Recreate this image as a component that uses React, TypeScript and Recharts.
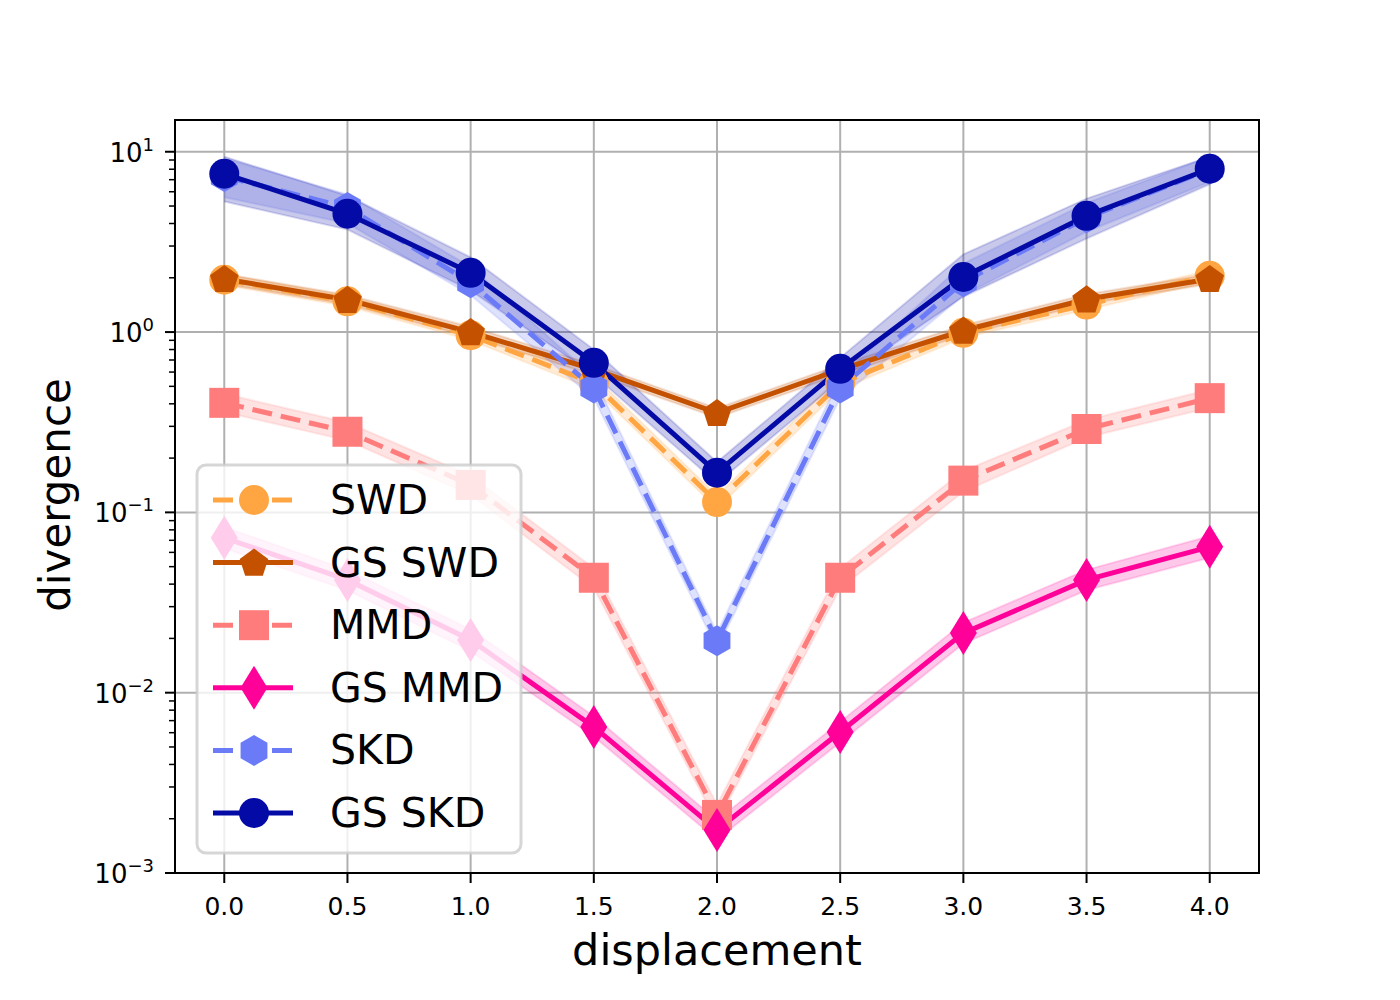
import React from "react";
import {
  ComposedChart,
  Line,
  Area,
  XAxis,
  YAxis,
  CartesianGrid,
  ReferenceArea,
} from "recharts";

const displacement = [0, 0.5, 1, 1.5, 2, 2.5, 3, 3.5, 4];

const swd = [1.95, 1.48, 0.96, 0.52, 0.114, 0.52, 0.99, 1.42, 2.05];
const swdLow = [1.82, 1.39, 0.9, 0.48, 0.105, 0.48, 0.93, 1.33, 1.9];
const swdHigh = [2.1, 1.58, 1.03, 0.57, 0.124, 0.57, 1.06, 1.52, 2.2];

const gsSwd = [1.97, 1.51, 1.0, 0.62, 0.356, 0.62, 1.02, 1.52, 1.97];
const gsSwdLow = [1.85, 1.42, 0.94, 0.58, 0.335, 0.58, 0.96, 1.43, 1.85];
const gsSwdHigh = [2.1, 1.61, 1.07, 0.66, 0.378, 0.66, 1.09, 1.62, 2.1];

const mmd = [0.405, 0.28, 0.142, 0.0434, 0.0021, 0.0434, 0.15, 0.29, 0.43];
const mmdLow = [0.36, 0.25, 0.125, 0.038, 0.0019, 0.038, 0.13, 0.26, 0.38];
const mmdHigh = [0.455, 0.315, 0.16, 0.049, 0.0024, 0.049, 0.17, 0.325, 0.48];

const gsMmd = [0.0723, 0.0422, 0.0196, 0.00646, 0.00173, 0.00605, 0.0214, 0.0422, 0.0644];
const gsMmdLow = [0.063, 0.037, 0.017, 0.0057, 0.00153, 0.0053, 0.0187, 0.037, 0.056];
const gsMmdHigh = [0.083, 0.048, 0.0225, 0.0074, 0.00196, 0.0069, 0.0245, 0.048, 0.074];

const skd = [7.3, 4.9, 1.88, 0.49, 0.0194, 0.49, 1.9, 4.3, 8.0];
const skdLow = [5.6, 4.0, 1.6, 0.43, 0.0175, 0.43, 1.6, 3.6, 6.8];
const skdHigh = [9.2, 5.8, 2.3, 0.56, 0.0215, 0.56, 2.4, 5.2, 9.4];

const gsSkd = [7.55, 4.53, 2.13, 0.675, 0.166, 0.625, 2.02, 4.41, 8.05];
const gsSkdLow = [5.3, 3.7, 1.7, 0.58, 0.145, 0.54, 1.57, 3.3, 6.6];
const gsSkdHigh = [9.4, 5.7, 2.6, 0.8, 0.19, 0.72, 2.7, 5.5, 9.4];

const xTicks = [0, 0.5, 1, 1.5, 2, 2.5, 3, 3.5, 4];
const majorTicks = [0.001, 0.01, 0.1, 1, 10];
const minorSteps = [2, 3, 4, 5, 6, 7, 8, 9];

const yTicks = [
  ...majorTicks,
  ...[0.001, 0.01, 0.1, 1].flatMap((d) => minorSteps.map((m) => +(m * d).toPrecision(3))),
].sort((a, b) => a - b);

const series = [
  { key: "swd", name: "SWD", color: "#FFA643", shape: "circle", dashed: true, vals: swd, lo: swdLow, hi: swdHigh },
  { key: "gsSwd", name: "GS SWD", color: "#C45100", shape: "pentagon", dashed: false, vals: gsSwd, lo: gsSwdLow, hi: gsSwdHigh },
  { key: "mmd", name: "MMD", color: "#FF7C7C", shape: "square", dashed: true, vals: mmd, lo: mmdLow, hi: mmdHigh },
  { key: "gsMmd", name: "GS MMD", color: "#FF0099", shape: "diamond", dashed: false, vals: gsMmd, lo: gsMmdLow, hi: gsMmdHigh },
  { key: "skd", name: "SKD", color: "#6B7BF7", shape: "hexagon", dashed: true, vals: skd, lo: skdLow, hi: skdHigh },
  { key: "gsSkd", name: "GS SKD", color: "#040AA5", shape: "circle", dashed: false, vals: gsSkd, lo: gsSkdLow, hi: gsSkdHigh },
];

const data = displacement.map((x, i) => {
  const row: any = { x };
  series.forEach((s) => {
    row[s.key] = s.vals[i];
    row[s.key + "Band"] = [s.lo[i], s.hi[i]];
  });
  return row;
});

const polygon = (cx: number, cy: number, r: number, n: number) =>
  Array.from({ length: n }, (_, k) => {
    const a = (-90 + (360 / n) * k) * (Math.PI / 180);
    return `${cx + r * Math.cos(a)},${cy + r * Math.sin(a)}`;
  }).join(" ");

function Marker({ shape, cx, cy, color }: any) {
  if (cx == null || cy == null) return null;
  switch (shape) {
    case "pentagon":
      return <polygon points={polygon(cx, cy + 1, 15, 5)} fill={color} />;
    case "square":
      return <rect x={cx - 15} y={cy - 15} width={30} height={30} fill={color} />;
    case "diamond":
      return (
        <polygon
          points={`${cx},${cy - 22} ${cx + 13.5},${cy} ${cx},${cy + 22} ${cx - 13.5},${cy}`}
          fill={color}
        />
      );
    case "hexagon":
      return <polygon points={polygon(cx, cy, 15.5, 6)} fill={color} />;
    default:
      return <circle cx={cx} cy={cy} r={15} fill={color} />;
  }
}

const XTick = ({ x, y, payload }: any) => (
  <g>
    <line x1={x} x2={x} y1={y} y2={y + 10} stroke="#000" strokeWidth={2} />
    <text x={x} y={y + 42} textAnchor="middle" fontSize={25} fill="#000">
      {Number(payload.value).toFixed(1)}
    </text>
  </g>
);

const YTick = ({ x, y, payload }: any) => {
  const v = Number(payload.value);
  const e = Math.round(Math.log10(v));
  const major = Math.abs(Math.log10(v) - e) < 1e-6;
  if (!major) {
    return <line x1={x - 6} x2={x} y1={y} y2={y} stroke="#000" strokeWidth={1.5} />;
  }
  return (
    <g>
      <line x1={x - 10} x2={x} y1={y} y2={y} stroke="#000" strokeWidth={2} />
      <text x={x - 21} y={y + 10} textAnchor="end" fontSize={26} fill="#000">
        <tspan>10</tspan>
        <tspan dy={-11} fontSize={18}>
          {e < 0 ? "\u2212" + Math.abs(e) : String(e)}
        </tspan>
      </text>
    </g>
  );
};

function LegendBox() {
  const left = 197;
  const top = 465;
  return (
    <g>
      <rect
        x={left}
        y={top}
        width={324}
        height={388}
        rx={9}
        fill="#fff"
        fillOpacity={0.8}
        stroke="#cccccc"
        strokeOpacity={0.8}
        strokeWidth={3}
      />
      {series.map((s, i) => {
        const cy = top + 35 + i * 62.6;
        return (
          <g key={s.key}>
            <line
              x1={left + 16}
              x2={left + 96}
              y1={cy}
              y2={cy}
              stroke={s.color}
              strokeWidth={5}
              strokeDasharray={s.dashed ? "20 39" : undefined}
            />
            <Marker shape={s.shape} cx={left + 57} cy={cy} color={s.color} />
            <text x={left + 133} y={cy + 14} fontSize={41} fill="#000">
              {s.name}
            </text>
          </g>
        );
      })}
    </g>
  );
}

export default function App() {
  return (
    <div
      style={{
        position: "absolute",
        left: 0,
        top: 0,
        width: 1400,
        height: 1000,
        background: "#fff",
        fontFamily: "'DejaVu Sans', sans-serif",
      }}
    >
      <ComposedChart
        width={1400}
        height={1000}
        data={data}
        margin={{ top: 120, right: 141, bottom: 0, left: 0 }}
      >
        <CartesianGrid
          stroke="#b0b0b0"
          strokeWidth={2}
          horizontalValues={majorTicks}
          verticalValues={xTicks}
        />
        <XAxis
          dataKey="x"
          type="number"
          domain={[-0.2, 4.2]}
          ticks={xTicks}
          interval={0}
          height={127}
          tickSize={0}
          tickMargin={0}
          tick={<XTick />}
          axisLine={{ stroke: "#000", strokeWidth: 2 }}
          allowDataOverflow
        />
        <YAxis
          type="number"
          scale="log"
          domain={[0.001, 15]}
          ticks={yTicks}
          interval={0}
          width={175}
          tickSize={0}
          tickMargin={0}
          tick={<YTick />}
          axisLine={{ stroke: "#000", strokeWidth: 2 }}
          allowDataOverflow
        />
        {series.flatMap((s) => [
          <Area
            key={s.key + "Band"}
            dataKey={s.key + "Band"}
            type="linear"
            stroke={s.color}
            strokeOpacity={0.15}
            strokeWidth={2}
            fill={s.color}
            fillOpacity={0.22}
            dot={false}
            activeDot={false}
            isAnimationActive={false}
          />,
          <Line
            key={s.key}
            dataKey={s.key}
            type="linear"
            stroke={s.color}
            strokeWidth={5}
            strokeDasharray={s.dashed ? "20 9" : undefined}
            dot={(p: any) => (
              <Marker key={s.key + "-" + p.index} shape={s.shape} cx={p.cx} cy={p.cy} color={s.color} />
            )}
            activeDot={false}
            isAnimationActive={false}
          />,
        ])}
        <ReferenceArea
          x1={-0.2}
          x2={4.2}
          y1={0.001}
          y2={15}
          fill="none"
          stroke="#000"
          strokeWidth={2}
          ifOverflow="visible"
        />
      </ComposedChart>
      <svg
        width={1400}
        height={1000}
        style={{ position: "absolute", left: 0, top: 0, pointerEvents: "none" }}
      >
        <LegendBox />
        <text x={717} y={965} textAnchor="middle" fontSize={43} fill="#000">
          displacement
        </text>
        <text
          x={70}
          y={495}
          textAnchor="middle"
          fontSize={42}
          fill="#000"
          transform="rotate(-90 70 495)"
        >
          divergence
        </text>
      </svg>
    </div>
  );
}
